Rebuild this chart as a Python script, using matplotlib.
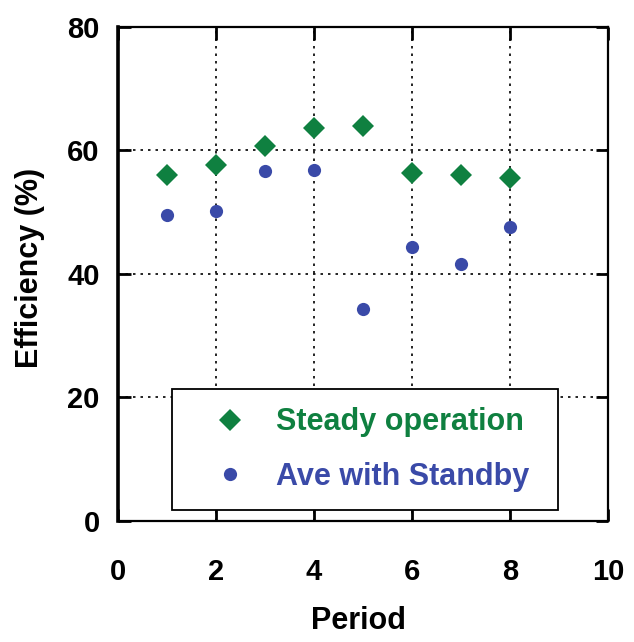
import numpy as np
import matplotlib
matplotlib.use('Agg')
from matplotlib import pyplot as plt

''' Data read off the reference '''
period = [1, 2, 3, 4, 5, 6, 7, 8]
steady_eff = [56.1, 57.6, 60.8, 63.6, 64.0, 56.4, 56.1, 55.5]
standby_eff = [49.6, 50.2, 56.6, 56.9, 34.3, 44.4, 41.6, 47.6]
series_names = ['Steady operation', 'Ave with Standby']

''' Plot knobs '''
fig_dims = (6.34, 6.42)
font_family = ['Liberation Sans', 'DejaVu Sans']
tick_fontsize = 21
label_fontsize = 22
green = '#0f8040'
blue = '#3a4aa8'

plt.rcParams['font.family'] = font_family
plt.rcParams['font.weight'] = 'bold'

fig = plt.figure(figsize=fig_dims, dpi=100)
ax = fig.add_axes([0.186, 0.1885, 0.773, 0.7695])

ax.plot(period, steady_eff, linestyle='none', marker='D', markersize=11,
        color=green, markeredgewidth=0, label=series_names[0], zorder=3)
ax.plot(period, standby_eff, linestyle='none', marker='o', markersize=9.5,
        color=blue, markeredgewidth=0, label=series_names[1], zorder=3)

''' axes '''
ax.set_xlim(0, 10)
ax.set_ylim(0, 80)
ax.set_xticks(np.arange(0, 11, 2))
ax.set_yticks(np.arange(0, 81, 20))
ax.tick_params(axis='both', which='major', direction='in', length=9, width=2,
               top=True, right=True, labelsize=tick_fontsize)
ax.tick_params(axis='x', pad=27)
ax.tick_params(axis='y', pad=13)
for lbl in ax.get_xticklabels() + ax.get_yticklabels():
    lbl.set_fontweight('bold')

for side in ['top', 'right', 'bottom']:
    ax.spines[side].set_linewidth(1.6)
ax.spines['left'].set_linewidth(2.6)

# dotted grid only at the inner ticks
for xv in [2, 4, 6, 8]:
    ax.axvline(xv, color='k', linewidth=1.2, linestyle=(0, (1.5, 3)), zorder=1)
for yv in [20, 40, 60]:
    ax.axhline(yv, color='k', linewidth=1.2, linestyle=(0, (1.5, 3)), zorder=1)

ax.set_xlabel('Period', fontsize=label_fontsize, fontweight='bold')
ax.set_ylabel('Efficiency (%)', fontsize=label_fontsize, fontweight='bold')
ax.xaxis.set_label_coords(0.49, -0.172)
ax.yaxis.set_label_coords(-0.149, 0.512)

''' legend '''
leg = ax.legend(loc='upper left', bbox_to_anchor=(0.110, 0.030, 0.788, 0.237),
                mode='expand', fancybox=False, framealpha=1, edgecolor='k',
                fontsize=label_fontsize, borderpad=0.6, handlelength=2.6,
                handletextpad=0.22, labelspacing=0.8, borderaxespad=0,
                labelcolor='markerfacecolor')
leg.get_frame().set_linewidth(1.3)
for t in leg.get_texts():
    t.set_fontweight('bold')

fig.savefig('out.png', dpi=100)
